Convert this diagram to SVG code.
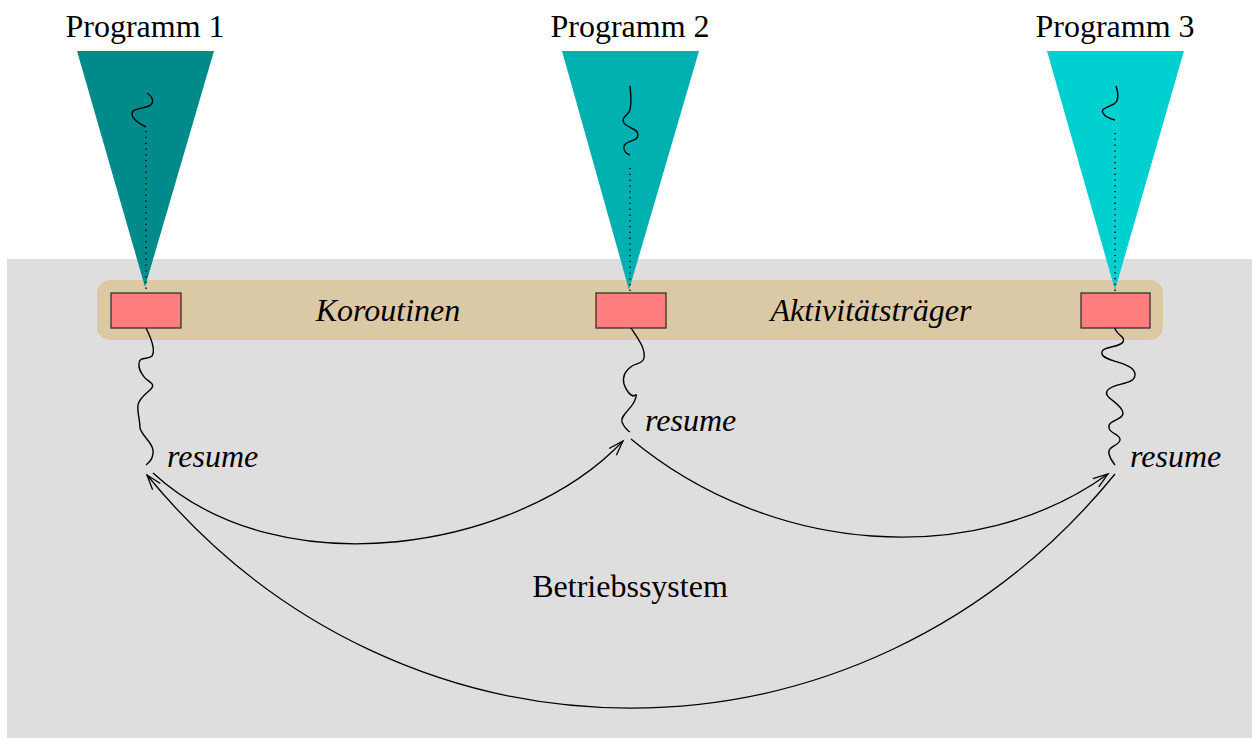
<svg xmlns="http://www.w3.org/2000/svg" width="1252" height="738" viewBox="0 0 1252 738">
<style>
.lbl{font-family:"Liberation Serif","Times New Roman",serif;font-size:32px;fill:#000}
.it{font-style:italic}
.box{fill:#ff7f7f;stroke:#333;stroke-width:1.3}
.sq{fill:none;stroke:#000;stroke-width:1.4}
.dot{fill:none;stroke:#000;stroke-width:1.4;stroke-dasharray:1.3 4.5}
.arc{fill:none;stroke:#000;stroke-width:1.3}
</style>
<defs>
<marker id="ah" markerUnits="userSpaceOnUse" markerWidth="20" markerHeight="14" refX="0" refY="0" viewBox="-16 -7 20 14" orient="auto">
<path d="M-15,-5 L0,0 L-15,5" fill="none" stroke="#000" stroke-width="1.3"/>
</marker>
</defs>
<rect x="0" y="0" width="1252" height="738" fill="#fff"/>
<g id="betriebssystem">
<rect x="7" y="259" width="1245" height="479" fill="#dedede"/>
<text class="lbl" x="630" y="597" text-anchor="middle">Betriebssystem</text>
</g>
<g id="traeger">
<rect x="97" y="280" width="1066" height="60" rx="13" ry="13" fill="#dbc9a6"/>
<text class="lbl it" x="388" y="321" text-anchor="middle">Koroutinen</text>
<text class="lbl it" x="871" y="321" text-anchor="middle">Aktivitätsträger</text>
</g>
<g id="programm1">
<text class="lbl" x="145" y="37" text-anchor="middle">Programm 1</text>
<polygon points="77,51 214,51 145,287" fill="#008b8b"/>
<path class="sq" d="M147,93 C153,97 155,103 149,106 C142,109 132,108 132,114 C132,119 140,124 146,127"/>
<line class="dot" x1="146" y1="131" x2="146" y2="291"/>
<rect class="box" x="111" y="293" width="70" height="35"/>
<path class="sq" d="M146,328 C150,336 156,350 152,356 C148,360 140,356 139,363 C138,370 142,374 145,378 C149,382 156,384 151,389 C147,393 139,398 138,405 C137,412 140,420 140,428 C142,436 152,442 153,450 C154,458 150,462 146,465"/>
<text class="lbl it" x="167" y="467">resume</text>
</g>
<g id="programm2">
<text class="lbl" x="630" y="37" text-anchor="middle">Programm 2</text>
<polygon points="562,51 699,51 629,290" fill="#00b0b0"/>
<path class="sq" d="M630,86 C631,95 632,106 629,112 C626,116 621,118 624,123 C627,128 638,128 638,135 C638,142 626,140 624,146 C623,151 627,154 630,155"/>
<line class="dot" x1="630" y1="168" x2="630" y2="291"/>
<rect class="box" x="596" y="293" width="70" height="35"/>
<path class="sq" d="M631,328 C636,336 646,348 644,358 C643,364 636,363 632,366 C626,370 622,376 624,384 C626,390 630,396 634,396 C638,392 636,398 634,402 C630,410 620,416 622,422 C624,427 627,430 630,432"/>
<text class="lbl it" x="645" y="431">resume</text>
</g>
<g id="programm3">
<text class="lbl" x="1115" y="37" text-anchor="middle">Programm 3</text>
<polygon points="1047,51 1184,51 1115,290" fill="#00d0d0"/>
<path class="sq" d="M1116,86 C1118,92 1120,100 1114,104 C1108,107 1100,109 1103,113 C1105,117 1111,119 1115,120"/>
<line class="dot" x1="1115" y1="133" x2="1115" y2="291"/>
<rect class="box" x="1081" y="293" width="69" height="35"/>
<path class="sq" d="M1115,328 C1116,335 1126,336 1123,342 C1119,348 1100,346 1102,354 C1104,362 1134,362 1135,374 C1136,386 1112,382 1107,391 C1103,398 1122,403 1123,413 C1124,420 1107,420 1109,428 C1110,434 1121,434 1120,440 C1119,446 1107,446 1109,454 C1110,459 1113,462 1115,465"/>
<text class="lbl it" x="1130" y="467">resume</text>
</g>
<g id="connectors">
<path class="arc" d="M153,473 C280,590 520,550 623,441" marker-end="url(#ah)"/>
<path class="arc" d="M631,439 C770,555 975,570 1108,474" marker-end="url(#ah)"/>
<path class="arc" d="M1115,474 C861,786 401,786 147,475" marker-end="url(#ah)"/>
</g>
</svg>
